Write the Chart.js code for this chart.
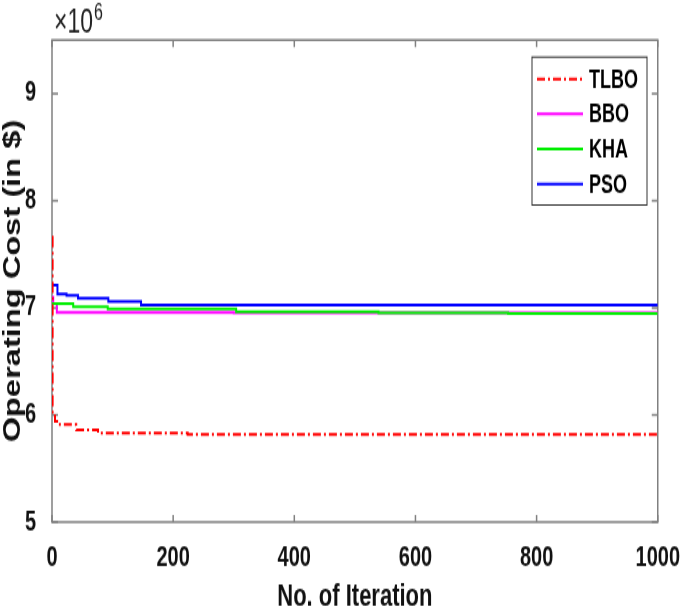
<!DOCTYPE html>
<html>
<head>
<meta charset="utf-8">
<title>Operating cost convergence</title>
<script src="https://cdn.jsdelivr.net/npm/chart.js@4.4.1/dist/chart.umd.min.js"></script>
<style>
  html, body { margin: 0; padding: 0; background: #fff; }
  body { width: 685px; height: 610px; overflow: hidden; }
  /* the source figure is a MATLAB plot squeezed horizontally, so stretch the canvas vertically */
  #wrap { width: 685px; height: 430px; transform: scaleY(1.4186); transform-origin: 0 0; }
</style>
</head>
<body>
<div id="wrap"><canvas id="costChart" width="685" height="430"></canvas></div>
<script>
// Operating cost (x10^6 $) vs iteration
const iterTLBO = [0, 1, 5, 13, 40, 76, 224, 1000];
const costTLBO = [7.66, 5.99, 5.94, 5.91, 5.86, 5.83, 5.818, 5.815];

const iterBBO = [0, 2, 8, 300, 1000];
const costBBO = [7.10, 7.04, 6.958, 6.952, 6.950];

const iterKHA = [0, 35, 92, 304, 539, 753, 1000];
const costKHA = [7.04, 7.01, 6.99, 6.963, 6.953, 6.947, 6.947];

const iterPSO = [0, 9, 24, 43, 93, 147, 1000];
const costPSO = [7.21, 7.13, 7.115, 7.09, 7.06, 7.025, 7.025];

const xTicks = [0, 200, 400, 600, 800, 1000];
const yTicks = [5, 6, 7, 8, 9];

const fontFam = "'Liberation Sans', Arial, Helvetica, sans-serif";
const axisGray = '#808080';

Chart.defaults.font.family = fontFam;
Chart.defaults.color = '#000';

function toPoints(xs, ys) {
    return xs.map((x, i) => ({ x: x, y: ys[i] }));
}

// box around the plot with MATLAB style inward ticks, exponent label and legend
const matlabFrame = {
    id: 'matlabFrame',
    beforeDatasetsDraw(chart) {
        const { ctx, chartArea: a, scales } = chart;
        ctx.save();
        ctx.strokeStyle = axisGray;
        ctx.lineWidth = 1.5;
        ctx.strokeRect(a.left, a.top, a.right - a.left, a.bottom - a.top);
        ctx.beginPath();
        scales.x.ticks.forEach(t => {
            const px = scales.x.getPixelForValue(t.value);
            ctx.moveTo(px, a.bottom); ctx.lineTo(px, a.bottom - 5);
            ctx.moveTo(px, a.top); ctx.lineTo(px, a.top + 5);
        });
        scales.y.ticks.forEach(t => {
            const py = scales.y.getPixelForValue(t.value);
            ctx.moveTo(a.left, py); ctx.lineTo(a.left + 6, py);
            ctx.moveTo(a.right, py); ctx.lineTo(a.right - 6, py);
        });
        ctx.stroke();
        ctx.restore();
    },
    afterDatasetsDraw(chart) {
        const { ctx, chartArea: a } = chart;
        ctx.save();

        // x10^6 above the y axis
        ctx.fillStyle = '#222';
        ctx.textBaseline = 'alphabetic';
        ctx.font = `23px ${fontFam}`;
        ctx.fillText('\u00d710', a.left + 2, 23.3);
        const w = ctx.measureText('\u00d710').width;
        ctx.font = `16px ${fontFam}`;
        ctx.fillText('6', a.left + 2 + w + 1, 14);

        // legend
        const boxL = 532, boxR = 647;
        const boxT = 40.2, boxB = 144.5;
        ctx.fillStyle = '#fff';
        ctx.fillRect(boxL, boxT, boxR - boxL, boxB - boxT);
        ctx.strokeStyle = '#333';
        ctx.lineWidth = 1;
        ctx.strokeRect(boxL, boxT, boxR - boxL, boxB - boxT);
        ctx.font = `bold 18px ${fontFam}`;
        ctx.textBaseline = 'middle';
        chart.data.datasets.forEach((ds, i) => {
            const y = 55.7 + i * 24.65;
            ctx.strokeStyle = ds.borderColor;
            ctx.lineWidth = 2;
            ctx.setLineDash(ds.borderDash || []);
            ctx.beginPath();
            ctx.moveTo(boxL + 5, y);
            ctx.lineTo(boxL + 51, y);
            ctx.stroke();
            ctx.setLineDash([]);
            ctx.fillStyle = '#000';
            ctx.fillText(ds.label, boxL + 57, y + 1);
        });
        ctx.restore();
    }
};

new Chart(document.getElementById('costChart'), {
    type: 'line',
    data: {
        datasets: [
            { label: 'TLBO', data: toPoints(iterTLBO, costTLBO), borderColor: '#ff0000', borderDash: [8, 3, 2, 3], order: 0 },
            { label: 'BBO', data: toPoints(iterBBO, costBBO), borderColor: '#ff00ff', order: 3 },
            { label: 'KHA', data: toPoints(iterKHA, costKHA), borderColor: '#00ee00', order: 2 },
            { label: 'PSO', data: toPoints(iterPSO, costPSO), borderColor: '#0000ff', order: 1 }
        ]
    },
    options: {
        responsive: false,
        devicePixelRatio: 1,
        animation: false,
        datasets: {
            line: { stepped: true, borderWidth: 2, pointRadius: 0, fill: false }
        },
        layout: { padding: { top: 28.2, right: 26, left: 0, bottom: 0 } },
        plugins: {
            legend: { display: false },
            tooltip: { enabled: false }
        },
        scales: {
            x: {
                type: 'linear',
                min: 0,
                max: 1000,
                afterBuildTicks: s => { s.ticks = xTicks.map(v => ({ value: v })); },
                afterFit: s => { s.height = 62; },
                grid: { display: false },
                border: { display: false },
                ticks: {
                    padding: 5,
                    maxRotation: 0,
                    font: { size: 20, weight: 'bold' },
                    color: '#111',
                    callback: v => String(v)
                },
                title: {
                    display: true,
                    text: 'No. of Iteration',
                    font: { size: 22, weight: 'bold' },
                    color: '#111',
                    padding: { top: 0, bottom: -4 }
                }
            },
            y: {
                type: 'linear',
                min: 5,
                max: 9.5,
                afterBuildTicks: s => { s.ticks = yTicks.map(v => ({ value: v })); },
                afterFit: s => { s.width = 52; },
                grid: { display: false },
                border: { display: false },
                ticks: { padding: 8, font: { size: 20, weight: 'bold' }, color: '#111', callback: v => String(v) },
                title: {
                    display: true,
                    text: 'Operating Cost (in $)',
                    font: { size: 23, weight: 'bold' },
                    color: '#111',
                    padding: { top: 0, bottom: 0 }
                }
            }
        }
    },
    plugins: [matlabFrame]
});
</script>
</body>
</html>
